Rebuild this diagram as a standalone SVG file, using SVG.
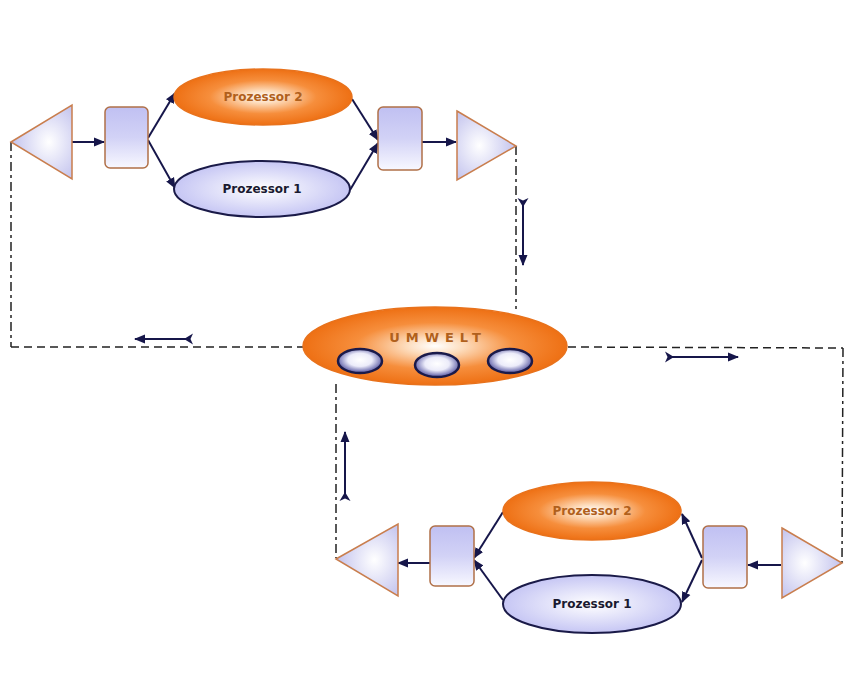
<svg xmlns="http://www.w3.org/2000/svg" width="852" height="700" viewBox="0 0 852 700">
<defs>
  <radialGradient id="triL" cx="0.62" cy="0.5" r="0.6">
    <stop offset="0" stop-color="#ffffff"/>
    <stop offset="1" stop-color="#c4c4ee"/>
  </radialGradient>
  <radialGradient id="triR" cx="0.38" cy="0.5" r="0.6">
    <stop offset="0" stop-color="#ffffff"/>
    <stop offset="1" stop-color="#c4c4ee"/>
  </radialGradient>
  <linearGradient id="rectG" x1="0" y1="0" x2="0" y2="1">
    <stop offset="0" stop-color="#c0c0f2"/>
    <stop offset="0.5" stop-color="#d2d2f6"/>
    <stop offset="1" stop-color="#f8f8ff"/>
  </linearGradient>
  <radialGradient id="orangeG" cx="0.5" cy="0.5" r="0.5">
    <stop offset="0" stop-color="#ffffff"/>
    <stop offset="0.22" stop-color="#fddcbc"/>
    <stop offset="0.6" stop-color="#f68e3c"/>
    <stop offset="1" stop-color="#ee7014"/>
  </radialGradient>
  <radialGradient id="blueG" cx="0.5" cy="0.5" r="0.5">
    <stop offset="0" stop-color="#ffffff"/>
    <stop offset="1" stop-color="#c6c6f4"/>
  </radialGradient>
  <radialGradient id="ovalG" cx="0.5" cy="0.45" r="0.55">
    <stop offset="0" stop-color="#ffffff"/>
    <stop offset="0.5" stop-color="#ececfa"/>
    <stop offset="1" stop-color="#50509e"/>
  </radialGradient>
  <marker id="ah" markerUnits="userSpaceOnUse" markerWidth="11" markerHeight="11" refX="10" refY="5.5" orient="auto">
    <path d="M0,1 L11,5.5 L0,10 Z" fill="#16164a"/>
  </marker>
  <marker id="tail" markerUnits="userSpaceOnUse" markerWidth="12" markerHeight="12" refX="3" refY="6" orient="auto">
    <path d="M0,0.5 L9,6 L0,11.5 L2.5,6 Z" fill="#16164a"/>
  </marker>
  <style>
    .tri { stroke: #c97e4e; stroke-width: 1.5; }
    .box { fill: url(#rectG); stroke: #b07048; stroke-width: 1.5; }
    .p2 { fill: url(#orangeG); stroke: #e8721c; stroke-width: 1.5; }
    .p1 { fill: url(#blueG); stroke: #1a1a48; stroke-width: 2; }
    .oval { fill: url(#ovalG); stroke: #1a1a4a; stroke-width: 2.5; }
    .t2 { font-family: "DejaVu Sans", Verdana, sans-serif; font-weight: bold; font-size: 12px; fill: #b0601c; text-anchor: middle; }
    .t1 { font-family: "DejaVu Sans", Verdana, sans-serif; font-weight: bold; font-size: 12px; fill: #1a1a30; text-anchor: middle; }
    .tu { font-family: "DejaVu Sans", Verdana, sans-serif; font-weight: bold; font-size: 13px; fill: #b0601c; text-anchor: middle; letter-spacing: 6px; }
    .conn { fill: none; stroke: #16164a; stroke-width: 2; marker-end: url(#ah); }
    .dir { fill: none; stroke: #16164a; stroke-width: 2; marker-end: url(#ah); marker-start: url(#tail); }
    .dash { fill: none; stroke: #222222; stroke-width: 1.5; stroke-dasharray: 8 5; }
    .dashdot { fill: none; stroke: #222222; stroke-width: 1.5; stroke-dasharray: 9 4 3 4; }
  </style>
</defs>
<rect width="852" height="700" fill="#ffffff"/>

<g id="connectors">
  <path class="dashdot" d="M11,142 L11,347"/>
  <path class="dash" d="M11,347 L303,347"/>
  <path class="dashdot" d="M516,146 L516,309"/>
  <path class="dash" d="M568,347 L843,348"/>
  <path class="dashdot" d="M843,348 L842,563"/>
  <path class="dashdot" d="M336,384 L336,558"/>
  <path class="dir" d="M190,339 L135,339"/>
  <path class="dir" d="M523,201 L523,265"/>
  <path class="dir" d="M668,357 L738,357"/>
  <path class="dir" d="M345,498 L345,432"/>
  <path class="conn" d="M72,142 L104,142"/>
  <path class="conn" d="M148,138 L175,93"/>
  <path class="conn" d="M148,140 L175,188"/>
  <path class="conn" d="M352,99 L378,140"/>
  <path class="conn" d="M350,190 L378,143"/>
  <path class="conn" d="M422,142 L456,142"/>
  <path class="conn" d="M781,565 L748,565"/>
  <path class="conn" d="M702,558 L682,514"/>
  <path class="conn" d="M702,560 L682,602"/>
  <path class="conn" d="M503,512 L474,558"/>
  <path class="conn" d="M503,600 L474,560"/>
  <path class="conn" d="M430,563 L398,563"/>
</g>

<g id="top-source">
  <polygon class="tri" fill="url(#triL)" points="11,142 72,105 72,179"/>
</g>
<g id="top-split">
  <rect class="box" x="105" y="107" width="43" height="61" rx="5"/>
</g>
<g id="top-prozessor2">
  <ellipse class="p2" cx="263" cy="97" rx="89" ry="28"/>
  <text class="t2" x="263" y="101">Prozessor 2</text>
</g>
<g id="top-prozessor1">
  <ellipse class="p1" cx="262" cy="189" rx="88" ry="28"/>
  <text class="t1" x="262" y="193">Prozessor 1</text>
</g>
<g id="top-merge">
  <rect class="box" x="378" y="107" width="44" height="63" rx="5"/>
</g>
<g id="top-sink">
  <polygon class="tri" fill="url(#triR)" points="457,111 516,146 457,180"/>
</g>

<g id="umwelt">
  <ellipse class="p2" cx="435" cy="346" rx="132" ry="39"/>
  <text class="tu" x="438" y="342">UMWELT</text>
  <ellipse class="oval" cx="360" cy="361" rx="22" ry="12"/>
  <ellipse class="oval" cx="437" cy="365" rx="22" ry="12"/>
  <ellipse class="oval" cx="510" cy="361" rx="22" ry="12"/>
</g>

<g id="bottom-source">
  <polygon class="tri" fill="url(#triR)" points="782,528 842,563 782,598"/>
</g>
<g id="bottom-split">
  <rect class="box" x="703" y="526" width="44" height="62" rx="5"/>
</g>
<g id="bottom-prozessor2">
  <ellipse class="p2" cx="592" cy="511" rx="89" ry="29"/>
  <text class="t2" x="592" y="515">Prozessor 2</text>
</g>
<g id="bottom-prozessor1">
  <ellipse class="p1" cx="592" cy="604" rx="89" ry="29"/>
  <text class="t1" x="592" y="608">Prozessor 1</text>
</g>
<g id="bottom-merge">
  <rect class="box" x="430" y="526" width="44" height="60" rx="5"/>
</g>
<g id="bottom-sink">
  <polygon class="tri" fill="url(#triL)" points="336,559 398,524 398,596"/>
</g>
</svg>
